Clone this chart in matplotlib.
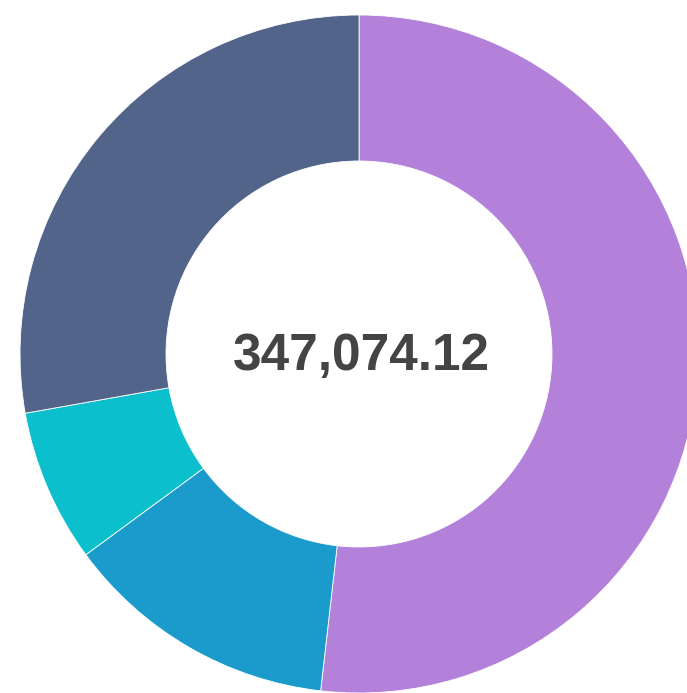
import matplotlib
matplotlib.use("Agg")
import matplotlib.pyplot as plt

labels = ["A", "B", "C", "D"]
values = [179800, 45500, 25300, 96474.12]
colors = ["#b381d9", "#1a9bcb", "#0bc0cc", "#53648b"]
total_label = "347,074.12"

W, H = 687, 693
fig = plt.figure(figsize=(W / 100, H / 100), dpi=100)
ax = fig.add_axes([0, 0, 1, 1])
ax.set_xlim(0, W)
ax.set_ylim(0, H)
ax.set_aspect("equal")
ax.axis("off")

cx, cy, R = 359, H - 354, 339
ax.pie(values, colors=colors, startangle=90, counterclock=False,
       center=(cx, cy), radius=R, frame=True,
       wedgeprops=dict(width=R - 193, edgecolor="white", linewidth=0.6))
ax.set_xlim(0, W)
ax.set_ylim(0, H)
ax.axis("off")

ax.text(cx + 2, H - 357, total_label, ha="center", va="center",
        fontsize=37, fontweight="bold", color="#444444",
        family=["Liberation Sans", "DejaVu Sans"])

fig.savefig("out.png", dpi=100)
